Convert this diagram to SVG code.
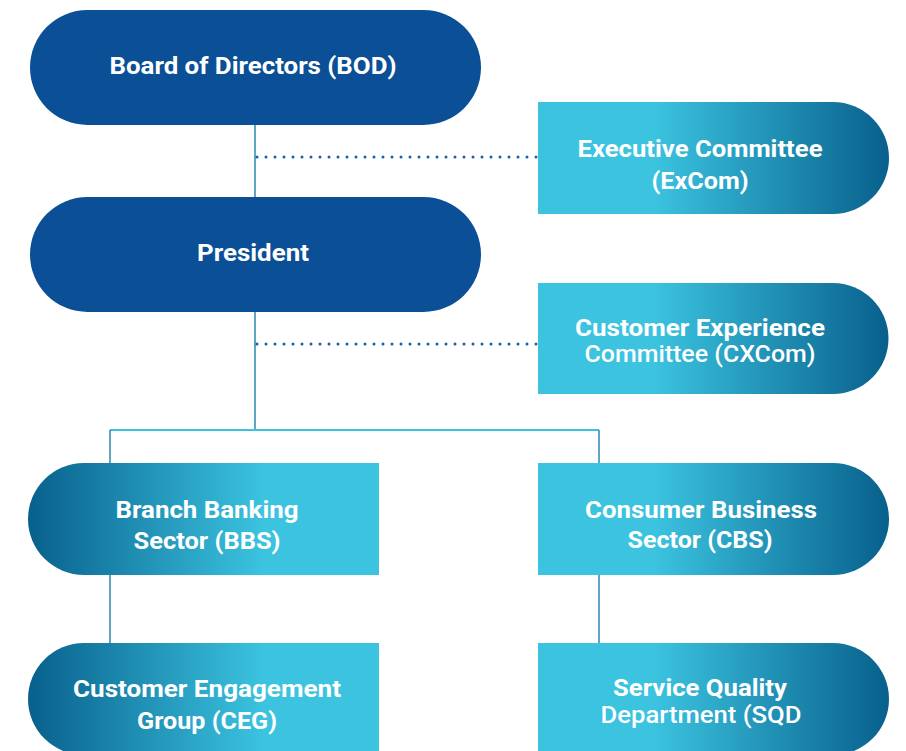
<svg xmlns="http://www.w3.org/2000/svg" width="906" height="751" viewBox="0 0 906 751">
<defs>
<linearGradient id="gR" x1="0" y1="0" x2="1" y2="0">
<stop offset="0" stop-color="#3BC3E0"/>
<stop offset="0.33" stop-color="#3BC3E0"/>
<stop offset="1" stop-color="#08608C"/>
</linearGradient>
<linearGradient id="gL" x1="1" y1="0" x2="0" y2="0">
<stop offset="0" stop-color="#3BC3E0"/>
<stop offset="0.33" stop-color="#3BC3E0"/>
<stop offset="1" stop-color="#08608C"/>
</linearGradient>
<style>
.t{font-family:Roboto,"Liberation Sans",sans-serif;font-weight:bold;font-size:24px;fill:#ffffff;text-anchor:middle}
.m{font-weight:500}
.dark{fill:#0B4F96}
.solid{stroke:#2E86B0;stroke-width:1.5;fill:none}
.light{stroke:#3BC3E0;stroke-width:2;fill:none}
.dot{stroke:#1A5FA8;stroke-width:3;stroke-linecap:round;stroke-dasharray:0 9;fill:none}
</style>
</defs>
<g id="connectors">
<line class="solid" x1="255" y1="125" x2="255" y2="197"/>
<line class="solid" x1="255" y1="312" x2="255" y2="430"/>
<line class="light" x1="110" y1="430" x2="599" y2="430"/>
<line class="solid" x1="110" y1="430" x2="110" y2="463"/>
<line class="solid" x1="599" y1="430" x2="599" y2="463"/>
<line class="solid" x1="110" y1="575" x2="110" y2="643"/>
<line class="solid" x1="599" y1="575" x2="599" y2="643"/>
<line class="dot" x1="257" y1="157" x2="538" y2="157"/>
<line class="dot" x1="257" y1="344" x2="538" y2="344"/>
</g>
<g id="bod">
<rect class="dark" x="30" y="10" width="451" height="115" rx="57.5"/>
<text class="t" x="253" y="74" textLength="287" lengthAdjust="spacingAndGlyphs">Board of Directors (BOD)</text>
</g>
<g id="president">
<rect class="dark" x="30" y="197" width="451" height="115" rx="57.5"/>
<text class="t" x="253" y="261" textLength="112" lengthAdjust="spacingAndGlyphs">President</text>
</g>
<g id="excom">
<path d="M538 102 H833 A56 56 0 0 1 833 214 H538 Z" fill="url(#gR)"/>
<text class="t" x="700" y="157" textLength="245" lengthAdjust="spacingAndGlyphs">Executive Committee</text>
<text class="t" x="700" y="189" textLength="97" lengthAdjust="spacingAndGlyphs">(ExCom)</text>
</g>
<g id="cxcom">
<path d="M538 283 H833 A55.5 55.5 0 0 1 833 394 H538 Z" fill="url(#gR)"/>
<text class="t" x="700" y="336" textLength="250" lengthAdjust="spacingAndGlyphs">Customer Experience</text>
<text class="t m" x="700" y="362" textLength="231" lengthAdjust="spacingAndGlyphs">Committee (CXCom)</text>
</g>
<g id="bbs">
<path d="M379 463 H84 A56 56 0 0 0 84 575 H379 Z" fill="url(#gL)"/>
<text class="t" x="207" y="518" textLength="183" lengthAdjust="spacingAndGlyphs">Branch Banking</text>
<text class="t" x="207" y="549" textLength="147" lengthAdjust="spacingAndGlyphs">Sector (BBS)</text>
</g>
<g id="cbs">
<path d="M538 463 H833 A56 56 0 0 1 833 575 H538 Z" fill="url(#gR)"/>
<text class="t" x="701" y="518" textLength="232" lengthAdjust="spacingAndGlyphs">Consumer Business</text>
<text class="t" x="700" y="548" textLength="145" lengthAdjust="spacingAndGlyphs">Sector (CBS)</text>
</g>
<g id="ceg">
<path d="M379 643 H84 A56 56 0 0 0 84 755 H379 Z" fill="url(#gL)"/>
<text class="t" x="207" y="697" textLength="268" lengthAdjust="spacingAndGlyphs">Customer Engagement</text>
<text class="t" x="207" y="729" textLength="140" lengthAdjust="spacingAndGlyphs">Group (CEG)</text>
</g>
<g id="sqd">
<path d="M538 643 H833 A56 56 0 0 1 833 755 H538 Z" fill="url(#gR)"/>
<text class="t" x="700" y="696" textLength="174" lengthAdjust="spacingAndGlyphs">Service Quality</text>
<text class="t m" x="701" y="723" textLength="201" lengthAdjust="spacingAndGlyphs">Department (SQD</text>
</g>
</svg>
